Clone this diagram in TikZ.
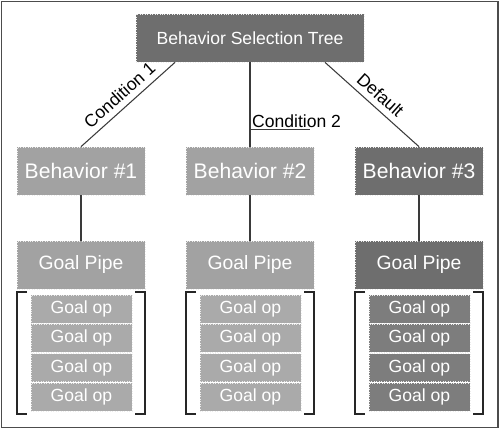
\documentclass[tikz,border=0pt]{standalone}
\usepackage{fontspec}
\setmainfont{Liberation Sans}
\usepackage{tikz}
\usepackage{color}
\definecolor{darkbox}{HTML}{6E6E6E}
\definecolor{lightbox}{HTML}{A2A2A2}
\definecolor{lightop}{HTML}{AAAAAA}
\definecolor{darkop}{HTML}{7D7D7D}
\definecolor{linegray}{HTML}{3A3A3A}

\begin{document}
\begin{tikzpicture}[x=0.02cm, y=-0.02cm,
	box/.style={draw=white!85!gray, densely dotted, rectangle, text=white, inner sep=0pt},
	mainbox/.style={box, fill=darkbox, minimum width=4.56cm, minimum height=0.96cm, font=\fontsize{10}{12}\selectfont},
	behbox/.style={box, minimum width=2.56cm, minimum height=0.96cm, font=\fontsize{12}{14}\selectfont},
	pipebox/.style={box, minimum width=2.56cm, minimum height=0.96cm, font=\fontsize{11}{13}\selectfont},
	opbox/.style={box, minimum width=2.02cm, minimum height=0.56cm, font=\fontsize{10}{12}\selectfont},
	link/.style={draw=linegray, line width=0.6pt},
	brk/.style={draw=black!85, line width=0.9pt}]
				\useasboundingbox (0,0) rectangle (500,429);
				\draw[draw=black!70, line width=0.9pt] (1.5,1.5) rectangle (498,427.5);
				\node[mainbox] (T)at(250, 38) {Behavior Selection Tree};
				\node[behbox, fill=lightbox] (B1)at(81, 171) {Behavior \#1};
				\node[behbox, fill=lightbox] (B2)at(250, 171) {Behavior \#2};
				\node[behbox, fill=darkbox] (B3)at(419, 171) {Behavior \#3};
				\node[pipebox, fill=lightbox] (P1)at(81, 265) {Goal Pipe};
				\node[pipebox, fill=lightbox] (P2)at(250, 265) {Goal Pipe};
				\node[pipebox, fill=darkbox] (P3)at(419, 265) {Goal Pipe};
				% goal ops
				\node[opbox, fill=lightop] (O1a)at(81.5, 309) {Goal op};
				\node[opbox, fill=lightop] (O1b)at(81.5, 338.3) {Goal op};
				\node[opbox, fill=lightop] (O1c)at(81.5, 367.6) {Goal op};
				\node[opbox, fill=lightop] (O1d)at(81.5, 396.9) {Goal op};
				\node[opbox, fill=lightop] (O2a)at(250.5, 309) {Goal op};
				\node[opbox, fill=lightop] (O2b)at(250.5, 338.3) {Goal op};
				\node[opbox, fill=lightop] (O2c)at(250.5, 367.6) {Goal op};
				\node[opbox, fill=lightop] (O2d)at(250.5, 396.9) {Goal op};
				\node[opbox, fill=darkop] (O3a)at(419.5, 309) {Goal op};
				\node[opbox, fill=darkop] (O3b)at(419.5, 338.3) {Goal op};
				\node[opbox, fill=darkop] (O3c)at(419.5, 367.6) {Goal op};
				\node[opbox, fill=darkop] (O3d)at(419.5, 396.9) {Goal op};
				% brackets
				\draw[brk] (27, 292) -| (17, 414) -- (27, 414);
				\draw[brk] (135, 292) -| (145, 414) -- (135, 414);
				\draw[brk] (196, 292) -| (186, 414) -- (196, 414);
				\draw[brk] (304, 292) -| (314, 414) -- (304, 414);
				\draw[brk] (365, 292) -| (355, 414) -- (365, 414);
				\draw[brk] (473, 292) -| (483, 414) -- (473, 414);
				% links
				\draw[link] (B1.north) -- ([xshift=-1.5cm]T.south) node[midway, above, sloped, font=\fontsize{10}{12}\selectfont] {Condition 1};
				\draw[link] (T.south) -- (B2.north) coordinate[pos=0.8] (C2);
				\draw[link] (C2) -- ++(60, 0);
				\node[anchor=south west, inner sep=1pt, font=\fontsize{10}{12}\selectfont] (L2)at(C2) {Condition 2};
				\draw[link] ([xshift=1.5cm]T.south) -- (B3.north) node[midway, above, sloped, font=\fontsize{10}{12}\selectfont] {Default};
				\draw[link] (B1) -- (P1);
				\draw[link] (B2) -- (P2);
				\draw[link] (B3) -- (P3);
			\end{tikzpicture}
\end{document}
